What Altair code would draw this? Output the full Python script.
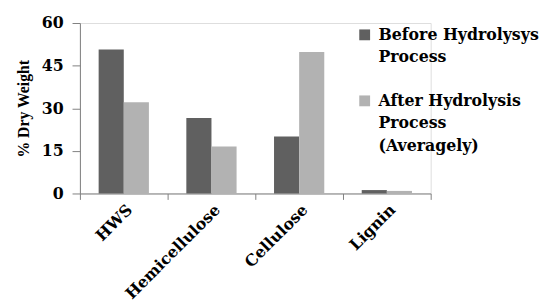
import altair as alt
import pandas as pd

components = ["HWS", "Hemicellulose", "Cellulose", "Lignin"]
before = [50.7, 26.6, 20.1, 1.2]
after = [32.1, 16.5, 49.8, 0.9]
series = ["Before Hydrolysys|Process", "After Hydrolysis|Process|(Averagely)"]
colors = ["#606060", "#b2b2b2"]
y_ticks = [0, 15, 30, 45, 60]

rows = []
for c, b, a in zip(components, before, after):
    rows.append({"component": c, "series": series[0], "value": b})
    rows.append({"component": c, "series": series[1], "value": a})
df = pd.DataFrame(rows)

wide = "DejaVu Serif"
narrow = "Liberation Serif"

chart = alt.Chart(df).mark_bar().encode(
    x=alt.X("component:N", sort=components, title=None,
            scale=alt.Scale(paddingInner=0, paddingOuter=0),
            axis=alt.Axis(labelAngle=-45, tickBand="extent", labelFont=wide,
                          labelFontSize=16, labelFontWeight="bold", labelColor="#000000",
                          domainColor="#808080", tickColor="#808080", tickSize=6,
                          labelPadding=2)),
    xOffset=alt.XOffset("series:N", sort=series,
                        scale=alt.Scale(paddingOuter=0.745, paddingInner=0)),
    y=alt.Y("value:Q", scale=alt.Scale(domain=[0, 60]),
            axis=alt.Axis(values=y_ticks, title="% Dry Weight", grid=False,
                          labelFont=wide, labelFontSize=16, labelFontWeight="bold",
                          labelColor="#000000", titleFont=narrow, titleFontSize=16,
                          titleFontWeight="bold", titleColor="#000000",
                          domainColor="#808080", tickColor="#808080", tickSize=8,
                          labelPadding=9, titlePadding=10)),
    color=alt.Color("series:N", sort=series,
                    scale=alt.Scale(domain=series, range=colors),
                    legend=alt.Legend(title=None, orient="none", legendX=281, legendY=4,
                                      labelExpr="split(datum.label, '|')",
                                      labelFont=wide, labelFontSize=16,
                                      labelFontWeight="bold", labelColor="#000000",
                                      symbolType="square", symbolSize=121,
                                      symbolStrokeWidth=0, rowPadding=28,
                                      labelOffset=6, labelLimit=250))
).properties(
    width=356, height=173,
    padding={"left": 7, "top": 5, "right": 5, "bottom": 5}
).configure_view(strokeWidth=0).configure(
    style={"guide-label": {"lineHeight": 23}}
)

chart.save("out.html", embed_options={"renderer": "svg", "actions": False})
